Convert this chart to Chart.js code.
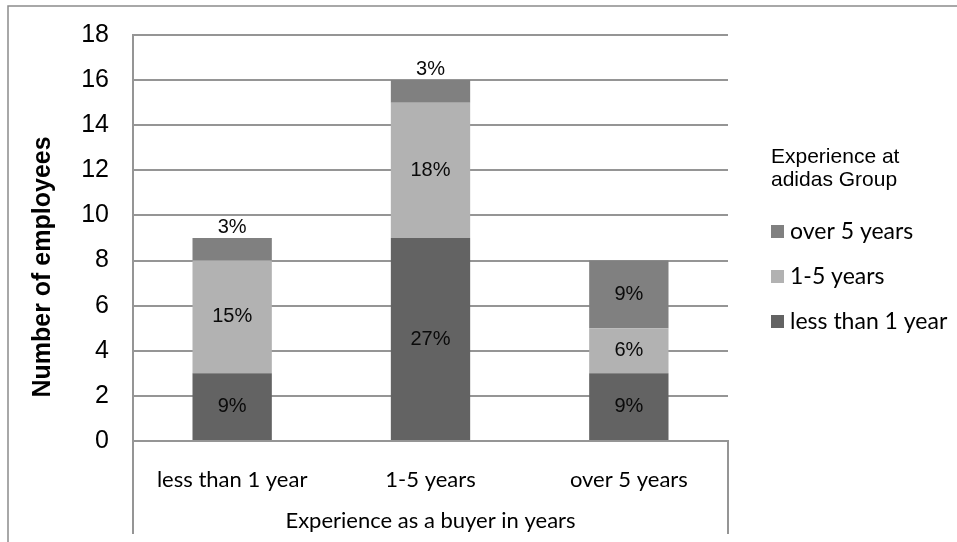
<!DOCTYPE html>
<html>
<head>
<meta charset="utf-8">
<script src="https://cdn.jsdelivr.net/npm/chart.js@4.4.1/dist/chart.umd.min.js"></script>
<style>
  html, body { margin: 0; padding: 0; background: #fff; }
  #wrap { width: 957px; height: 542px; position: relative; }
</style>
</head>
<body>
<div id="wrap"><canvas id="chart_buyers"></canvas></div>
<script>
var categories = ['less than 1 year', '1-5 years', 'over 5 years'];
var seriesNames = ['less than 1 year', '1-5 years', 'over 5 years'];
var lessThan1 = [3, 9, 3];
var oneToFive = [5, 6, 2];
var over5 = [1, 1, 3];
var pctLessThan1 = ['9%', '27%', '9%'];
var pctOneToFive = ['15%', '18%', '6%'];
var pctOver5 = ['3%', '3%', '9%'];
var yMax = 18;
var yStep = 2;
var legendTitle = ['Experience at', 'adidas Group'];
var xTitle = 'Experience as a buyer in years';
var yTitle = 'Number of employees';

var cores = ['#636363', '#b2b2b2', '#808080'];
var lineGray = '#959595';
var arial = 'Arial, "Liberation Sans", sans-serif';
var calibri = 'Lato, "Open Sans", sans-serif';

// percent labels on the segments, small ones go above the bar
var pctLabels = {
    id: 'pctLabels',
    afterDatasetsDraw: function(chart) {
        var ctx = chart.ctx;
        ctx.save();
        ctx.font = '20px ' + arial;
        ctx.fillStyle = '#0a0a0a';
        ctx.textAlign = 'center';
        ctx.textBaseline = 'middle';
        chart.data.datasets.forEach(function(ds, i) {
            var meta = chart.getDatasetMeta(i);
            meta.data.forEach(function(bar, j) {
                var h = bar.base - bar.y;
                var y = h < 30 ? bar.y - 11 : (bar.y + bar.base) / 2;
                ctx.fillText(ds.pct[j], bar.x, y);
            });
        });
        ctx.restore();
    }
};

// frame, category separators, y title and legend
var decor = {
    id: 'decor',
    beforeDraw: function(chart) {
        var ctx = chart.ctx;
        ctx.save();
        ctx.strokeStyle = '#8c8c8c';
        ctx.lineWidth = 1.5;
        ctx.beginPath();
        ctx.moveTo(8, chart.height);
        ctx.lineTo(8, 6);
        ctx.lineTo(chart.width, 6);
        ctx.stroke();
        ctx.restore();
    },
    afterDraw: function(chart) {
        var ctx = chart.ctx;
        var a = chart.chartArea;
        ctx.save();
        ctx.strokeStyle = lineGray;
        ctx.lineWidth = 2;
        ctx.beginPath();
        ctx.moveTo(a.left, a.bottom);
        ctx.lineTo(a.left, 534);
        ctx.moveTo(a.right, a.bottom);
        ctx.lineTo(a.right, 534);
        ctx.stroke();

        // y axis title, centred on the whole chart like excel does
        ctx.save();
        ctx.translate(50, 267);
        ctx.rotate(-Math.PI / 2);
        ctx.font = 'bold 25px ' + arial;
        ctx.fillStyle = '#000';
        ctx.textAlign = 'center';
        ctx.textBaseline = 'alphabetic';
        ctx.fillText(yTitle, 0, 0);
        ctx.restore();

        // legend
        var lx = a.right + 43;
        ctx.fillStyle = '#000';
        ctx.textAlign = 'left';
        ctx.textBaseline = 'middle';
        ctx.font = '21px ' + arial;
        legendTitle.forEach(function(t, k) {
            ctx.fillText(t, lx, 157 + k * 23);
        });
        ctx.font = '23px ' + calibri;
        var items = chart.data.datasets.slice().reverse();
        items.forEach(function(ds, k) {
            var cy = 232 + k * 45;
            ctx.fillStyle = ds.backgroundColor;
            ctx.fillRect(lx, cy - 7, 13, 13);
            ctx.fillStyle = '#000';
            ctx.fillText(ds.label, lx + 19, cy);
        });
        ctx.restore();
    }
};

var ctx = document.getElementById('chart_buyers');
var chartBar = new Chart(ctx, {
    type: 'bar',
    data: {
        labels: categories,
        datasets: [
            { label: seriesNames[0], data: lessThan1, pct: pctLessThan1, backgroundColor: cores[0] },
            { label: seriesNames[1], data: oneToFive, pct: pctOneToFive, backgroundColor: cores[1] },
            { label: seriesNames[2], data: over5, pct: pctOver5, backgroundColor: cores[2] }
        ]
    },
    options: {
        responsive: true,
        maintainAspectRatio: false,
        animation: false,
        barPercentage: 0.5,
        categoryPercentage: 0.8,
        layout: { padding: { top: 35, right: 229, bottom: 0, left: 0 } },
        plugins: {
            legend: { display: false },
            tooltip: { enabled: false }
        },
        scales: {
            x: {
                stacked: true,
                grid: { display: false },
                border: { display: true, color: lineGray, width: 2 },
                ticks: { color: '#000', font: { family: calibri, size: 22 }, padding: 18 },
                title: {
                    display: true,
                    text: xTitle,
                    color: '#000',
                    font: { family: calibri, size: 22 },
                    padding: { top: 0, bottom: 8 }
                },
                afterFit: function(scale) { scale.height = 101; }
            },
            y: {
                stacked: true,
                min: 0,
                max: yMax,
                // invisible tick marks push the labels off the axis
                grid: { color: lineGray, lineWidth: 2, drawTicks: true, tickLength: 24, tickColor: 'rgba(0,0,0,0)' },
                border: { display: true, color: lineGray, width: 2 },
                ticks: {
                    stepSize: yStep,
                    color: '#000',
                    font: { family: arial, size: 25 },
                    padding: 0
                },
                afterFit: function(scale) { scale.width = 133; }
            }
        }
    },
    plugins: [pctLabels, decor]
});
</script>
</body>
</html>
